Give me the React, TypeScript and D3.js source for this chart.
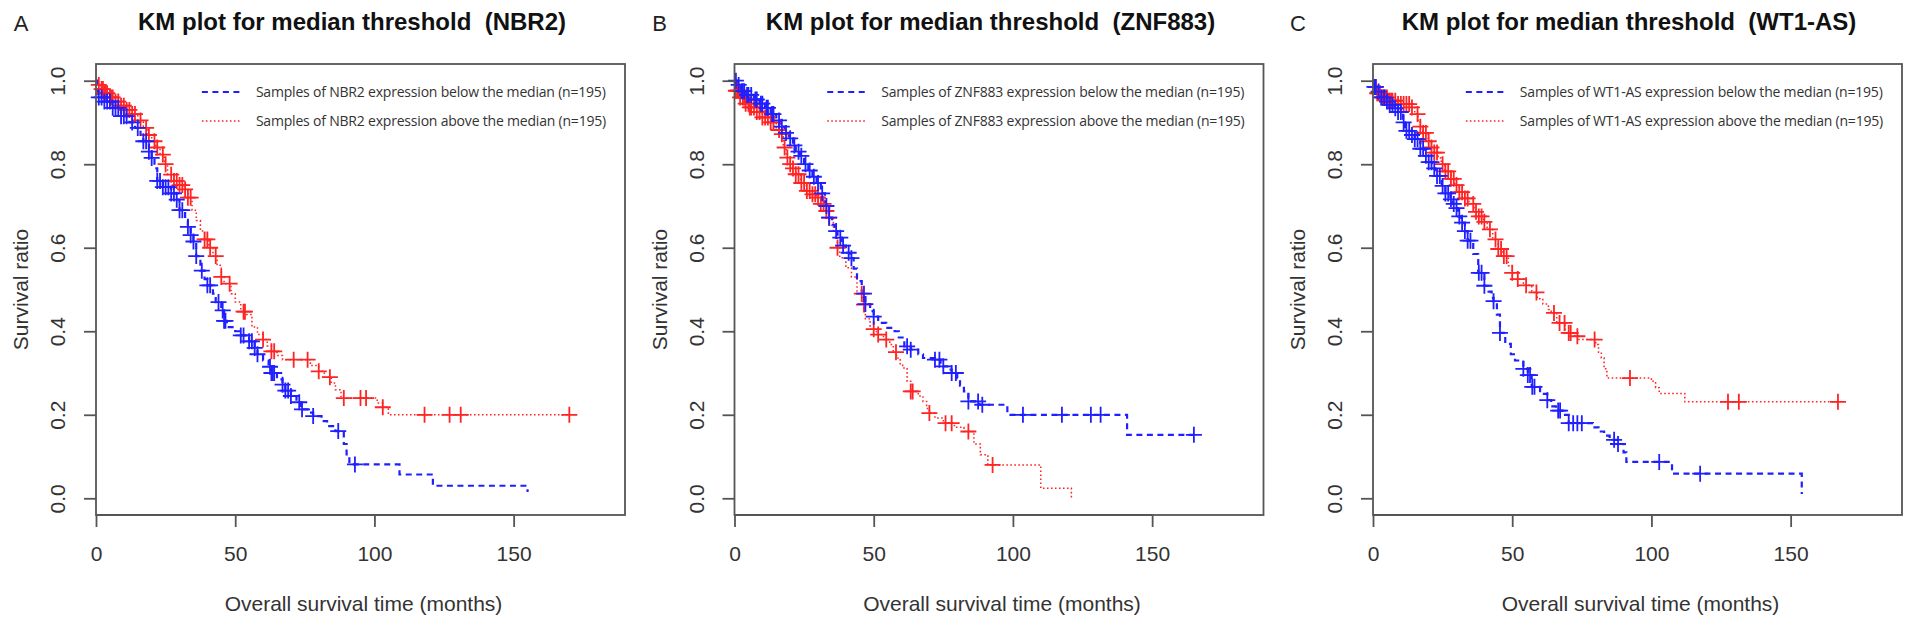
import { useEffect, useRef } from "react";
import * as d3 from "d3";

type Step = [number, number]; // [months, survival ratio from that time on]

const panelLetters = ["A", "B", "C"];
const geneNames = ["NBR2", "ZNF883", "WT1-AS"];
const groupSize = 195;
const xTickValues = [0, 50, 100, 150];
const yTickValues = [0, 0.2, 0.4, 0.6, 0.8, 1.0];

// ---- NBR2 ----
const nbr2BelowSteps: Step[] = [
  [0, 1], [0.7, 0.96], [3, 0.95], [6, 0.935], [9, 0.915], [12, 0.9], [14, 0.887], [16, 0.87],
  [17, 0.855], [19, 0.83], [20, 0.815], [21, 0.79], [22, 0.76], [24, 0.745], [27, 0.73],
  [29, 0.715], [30, 0.69], [32, 0.665], [33, 0.65], [34, 0.63], [35, 0.615], [36, 0.58],
  [37.5, 0.545], [39, 0.525], [40, 0.51], [42, 0.49], [43, 0.47], [45, 0.45], [46, 0.425],
  [47, 0.41], [50, 0.4], [52, 0.39], [55, 0.376], [57, 0.36], [58, 0.345], [60, 0.33],
  [62, 0.315], [63, 0.3], [65, 0.285], [67, 0.272], [68, 0.258], [70, 0.245], [72, 0.23],
  [73.5, 0.213], [76, 0.205], [78, 0.197], [81, 0.185], [83, 0.173], [86, 0.161], [89, 0.13],
  [90, 0.105], [91, 0.081], [109, 0.057], [121, 0.03], [155, 0.015],
];
const nbr2BelowEnd = 155;
const nbr2BelowCensor = [
  1, 2, 3, 4, 5, 6, 7, 8, 9, 10, 11, 13, 15, 17, 18, 19, 20, 22, 23, 24, 25, 26, 27, 28, 29, 30,
  31, 33, 34, 35, 36, 38, 40, 41, 44, 45.5, 46, 46.5, 52, 53, 55, 56, 57, 58, 62.5, 63, 63.5,
  64, 67, 68, 69, 70, 73, 74, 78, 87, 93,
];
const nbr2AboveSteps: Step[] = [
  [0, 1], [0.5, 0.99], [1.5, 0.98], [3, 0.97], [5, 0.96], [7, 0.95], [9, 0.94], [11, 0.93],
  [13, 0.92], [15, 0.905], [17, 0.887], [18.5, 0.87], [20, 0.855], [21.5, 0.84], [23, 0.823],
  [24.5, 0.8], [25.7, 0.775], [28, 0.76], [30, 0.75], [31.5, 0.74], [33, 0.72], [34.5, 0.69],
  [36, 0.665], [37.5, 0.64], [39, 0.62], [40.5, 0.6], [42, 0.58], [43.5, 0.558], [45, 0.53],
  [46, 0.514], [48.5, 0.49], [50, 0.47], [52, 0.447], [54, 0.44], [56, 0.41], [58, 0.392],
  [60, 0.38], [61.5, 0.365], [63, 0.352], [65, 0.342], [67, 0.332], [77, 0.318], [80, 0.304],
  [82, 0.29], [84.5, 0.276], [86, 0.26], [88, 0.24], [101, 0.228], [103, 0.218], [105, 0.2],
];
const nbr2AboveEnd = 170;
const nbr2AboveCensor = [
  1, 2, 2.5, 3, 3.5, 4, 5, 5.5, 6, 7, 8, 9, 10, 11, 12, 13, 14, 16, 18, 19, 21, 22, 24, 25, 27,
  28, 29, 30, 31, 32, 33, 34, 39, 40, 41, 43, 45, 48, 53, 53.5, 60, 63, 64, 71, 76, 80, 84, 89,
  95, 97, 103, 118, 127, 131, 170,
];

// ---- ZNF883 ----
const znf883BelowSteps: Step[] = [
  [0, 1], [1, 0.99], [2, 0.975], [4, 0.966], [7, 0.955], [9, 0.945], [11, 0.935], [13, 0.92],
  [15, 0.905], [16.5, 0.89], [18, 0.875], [19.5, 0.862], [21, 0.845], [22, 0.83], [23.5, 0.82],
  [25, 0.8], [26.5, 0.785], [28, 0.77], [29.5, 0.755], [31, 0.73], [32.5, 0.7], [34, 0.672],
  [35, 0.655], [36, 0.64], [37, 0.624], [38.5, 0.605], [40, 0.588], [41.5, 0.575],
  [42.8, 0.55], [44, 0.52], [45.7, 0.49], [47, 0.465], [48.7, 0.448], [50, 0.435],
  [51.6, 0.42], [54.5, 0.408], [57.5, 0.4], [59, 0.385], [61, 0.364], [63.3, 0.356], [66, 0.345],
  [67.7, 0.336], [72, 0.332], [74, 0.322], [75, 0.316], [77, 0.308], [78, 0.3], [80, 0.288],
  [81, 0.27], [82.4, 0.256], [84, 0.232], [88, 0.224], [98, 0.2], [141, 0.152],
];
const znf883BelowEnd = 165;
const znf883BelowCensor = [
  0.5, 1.5, 2.5, 3, 3.5, 4.5, 5, 6, 7.5, 8, 9.5, 10, 11.5, 12, 13.5, 14, 16, 17, 18.5, 20,
  21.5, 23, 24, 25.5, 27, 28.5, 30, 31.5, 33, 34, 36.5, 38, 39, 41, 42, 46.5, 47, 50, 62,
  63.3, 72, 73.6, 75, 78, 79.5, 84, 87.5, 89, 103.6, 117.6, 128, 131.5, 165,
];
const znf883AboveSteps: Step[] = [
  [0, 1], [0.5, 0.976], [2, 0.96], [4, 0.945], [5.5, 0.936], [8, 0.925], [10, 0.912],
  [13, 0.9], [15, 0.882], [16.2, 0.872], [17.5, 0.84], [18.6, 0.816], [20, 0.8],
  [20.8, 0.79], [22, 0.776], [23.8, 0.755], [25.8, 0.736], [28, 0.728], [29.4, 0.72],
  [31, 0.705], [33, 0.688], [34, 0.672], [35.5, 0.64], [37, 0.6], [37.8, 0.576], [40, 0.552],
  [42, 0.53], [44, 0.49], [46, 0.464], [47, 0.43], [48.7, 0.405], [51, 0.392], [53.5, 0.38],
  [55.8, 0.368], [57, 0.35], [58.2, 0.336], [59.5, 0.322], [60.4, 0.312], [62, 0.28],
  [63.3, 0.256], [66, 0.245], [67.7, 0.232], [69, 0.215], [70, 0.204], [72, 0.192],
  [75, 0.18], [79, 0.17], [82.4, 0.16], [86, 0.13], [88.3, 0.104], [91, 0.08], [110, 0.024],
  [121, 0],
];
const znf883AboveEnd = 121;
const znf883AboveCensor = [
  0.5, 1, 1.5, 2, 3, 3.5, 4, 5, 5.5, 6, 7, 8, 9, 10, 11, 12, 13, 14, 16, 17, 18, 19, 20, 21,
  22, 23, 24, 25, 26, 27, 28, 29, 30, 31, 32, 33, 34, 37, 45.7, 46.5, 50, 51.6, 54.5, 58, 63.3,
  64, 70, 75.8, 78, 84, 92.7,
];

// ---- WT1-AS ----
const wt1asBelowSteps: Step[] = [
  [0, 1], [0.5, 0.985], [1.5, 0.974], [3, 0.96], [4.6, 0.95], [6, 0.942], [7.7, 0.934],
  [9, 0.925], [10.8, 0.9], [11.5, 0.88], [13.9, 0.87], [15, 0.86], [17, 0.837],
  [18.5, 0.82], [20, 0.805], [21.2, 0.79], [22.4, 0.772], [24.7, 0.748], [26, 0.73],
  [27.8, 0.716], [28.6, 0.705], [29.4, 0.695], [30.5, 0.675], [31.7, 0.66], [33, 0.64],
  [34, 0.617], [36, 0.585], [37.8, 0.54], [40, 0.509], [41.5, 0.495], [42.6, 0.48],
  [43.3, 0.472], [44.5, 0.44], [45.6, 0.396], [47.5, 0.37], [49.5, 0.345], [51, 0.33],
  [54, 0.31], [55.6, 0.295], [57, 0.267], [60, 0.25], [62.6, 0.235], [64, 0.22], [65.7, 0.21],
  [68, 0.2], [70.3, 0.18], [79, 0.17], [81, 0.16], [83, 0.15], [85, 0.14], [88, 0.13],
  [90, 0.11], [91, 0.087], [107.4, 0.059], [154, 0.01],
];
const wt1asBelowEnd = 154;
const wt1asBelowCensor = [
  0.5, 1, 2, 3, 4, 5, 6, 7, 8, 9, 10, 11, 12, 13, 14, 15, 16, 17, 18, 19, 20, 21, 22, 23, 24,
  25, 26, 27, 28, 29, 30, 31, 32, 33, 34, 35, 38, 39, 40, 43.3, 45.6, 54, 55.6, 56.4, 57.2, 58,
  62.6, 66.5, 67.2, 70.3, 71.9, 73.4, 75, 86.6, 88, 102.8, 117.5,
];
const wt1asAboveSteps: Step[] = [
  [0, 1], [0.5, 0.985], [1.5, 0.97], [3, 0.96], [5.4, 0.952], [9, 0.944], [13.8, 0.936],
  [15, 0.92], [16.2, 0.903], [17, 0.89], [18, 0.875], [19.8, 0.855], [21, 0.84],
  [22, 0.828], [23.4, 0.815], [24.5, 0.8], [25.8, 0.783], [28, 0.765], [29.4, 0.75],
  [31, 0.733], [33, 0.718], [34.5, 0.705], [36.6, 0.686], [38, 0.675], [39.6, 0.662],
  [41, 0.644], [43, 0.62], [45, 0.597], [46.5, 0.58], [48.6, 0.557], [50, 0.54], [52, 0.525],
  [54, 0.51], [57, 0.493], [59, 0.478], [61, 0.465], [63, 0.452], [64, 0.444], [66, 0.42],
  [69, 0.396], [72.5, 0.388], [74, 0.38], [80, 0.368], [81, 0.35], [82, 0.336],
  [83, 0.31], [84, 0.288], [100, 0.28], [101.5, 0.265], [102.8, 0.251], [112, 0.231],
];
const wt1asAboveEnd = 167;
const wt1asAboveCensor = [
  1, 1.5, 2, 2.5, 3, 3.5, 4, 4.5, 5, 5.5, 6, 6.5, 7, 8, 9, 10, 11, 12, 13, 14, 16, 17, 18, 19,
  20, 21, 22, 23, 25, 26, 27, 28, 29, 30, 31, 32, 33, 34, 36, 37, 38, 39, 40, 42, 44, 45, 46,
  47, 48, 50, 52, 55, 58.7, 65, 67, 68.8, 70.3, 71, 73.4, 79.6, 92.3, 127.5, 131.4, 167,
];

type Curve = { steps: Step[]; end: number; censor: number[] };

const panels: { letter: string; gene: string; below: Curve; above: Curve }[] = [
  {
    letter: panelLetters[0],
    gene: geneNames[0],
    below: { steps: nbr2BelowSteps, end: nbr2BelowEnd, censor: nbr2BelowCensor },
    above: { steps: nbr2AboveSteps, end: nbr2AboveEnd, censor: nbr2AboveCensor },
  },
  {
    letter: panelLetters[1],
    gene: geneNames[1],
    below: { steps: znf883BelowSteps, end: znf883BelowEnd, censor: znf883BelowCensor },
    above: { steps: znf883AboveSteps, end: znf883AboveEnd, censor: znf883AboveCensor },
  },
  {
    letter: panelLetters[2],
    gene: geneNames[2],
    below: { steps: wt1asBelowSteps, end: wt1asBelowEnd, censor: wt1asBelowCensor },
    above: { steps: wt1asAboveSteps, end: wt1asAboveEnd, censor: wt1asAboveCensor },
  },
];

const survivalAt = (steps: Step[], t: number) => {
  let s = steps[0][1];
  for (const [time, value] of steps) {
    if (time <= t) s = value;
    else break;
  }
  return s;
};

const BLUE = "#1f1fff";
const RED = "#ff2424";
const AXIS = "#555";
const TEXT = "#333";
const FONT = "'Liberation Sans', Arial, Helvetica, sans-serif";

const App = () => {
  const svgRef = useRef<SVGSVGElement | null>(null);

  useEffect(() => {
    if (!svgRef.current) return;
    const svg = d3.select(svgRef.current);
    svg.selectAll("*").remove();

    const boxTop = 64;
    const boxBottom = 515;
    const boxWidth = 529;

    panels.forEach((panel, i) => {
      const left = 96 + i * 638.5;
      const right = left + boxWidth;

      const x = d3.scaleLinear().domain([0, 190]).range([left, right]);
      const y = d3.scaleLinear().domain([-0.04, 1.04]).range([boxBottom, boxTop]);

      const g = svg.append("g");

      // panel letter + title
      g.append("text")
        .attr("x", left - 75)
        .attr("y", 31)
        .attr("text-anchor", "middle")
        .attr("font-size", 22)
        .attr("fill", "#222")
        .text(panel.letter);

      g.append("text")
        .attr("x", left + 256)
        .attr("y", 30)
        .attr("text-anchor", "middle")
        .attr("font-size", 24)
        .attr("font-weight", "bold")
        .attr("fill", "#111")
        .style("white-space", "pre")
        .text(`KM plot for median threshold  (${panel.gene})`);

      // curves
      const line = d3
        .line<Step>()
        .x((d) => x(d[0]))
        .y((d) => y(d[1]))
        .curve(d3.curveStepAfter);

      const drawCurve = (curve: Curve, color: string, dash: string, width: number) => {
        const last = curve.steps[curve.steps.length - 1];
        const pts: Step[] =
          curve.end > last[0] ? [...curve.steps, [curve.end, last[1]]] : curve.steps;
        g.append("path")
          .datum(pts)
          .attr("fill", "none")
          .attr("stroke", color)
          .attr("stroke-width", width)
          .attr("stroke-dasharray", dash)
          .attr("d", line);
      };

      const drawCensor = (curve: Curve, color: string) => {
        g.append("g")
          .selectAll("path")
          .data(curve.censor)
          .join("path")
          .attr("transform", (t) => `translate(${x(t)},${y(survivalAt(curve.steps, t))})`)
          .attr("d", "M-8,0H8M0,-8V8")
          .attr("stroke", color)
          .attr("stroke-width", 1.8)
          .attr("fill", "none");
      };

      drawCurve(panel.above, RED, "1.6 2.4", 1.5);
      drawCurve(panel.below, BLUE, "6 4.5", 2.2);
      drawCensor(panel.above, RED);
      drawCensor(panel.below, BLUE);

      // box
      g.append("rect")
        .attr("x", left)
        .attr("y", boxTop)
        .attr("width", boxWidth)
        .attr("height", boxBottom - boxTop)
        .attr("fill", "none")
        .attr("stroke", AXIS)
        .attr("stroke-width", 1.8);

      // x axis
      const xAxisG = g
        .append("g")
        .attr("transform", `translate(0,${boxBottom})`)
        .call(d3.axisBottom(x).tickValues(xTickValues).tickSize(12).tickFormat(d3.format("d")));
      xAxisG.select(".domain").remove();
      xAxisG.selectAll("line").attr("stroke", AXIS).attr("stroke-width", 1.8);
      xAxisG
        .selectAll("text")
        .attr("y", 46)
        .attr("dy", 0)
        .attr("fill", TEXT)
        .attr("font-size", 21)
        .attr("font-family", FONT);
      g.append("line")
        .attr("x1", x(xTickValues[0]))
        .attr("x2", x(xTickValues[xTickValues.length - 1]))
        .attr("y1", boxBottom)
        .attr("y2", boxBottom)
        .attr("stroke", AXIS)
        .attr("stroke-width", 1.8);

      // y axis
      const yAxisG = g
        .append("g")
        .attr("transform", `translate(${left},0)`)
        .call(d3.axisLeft(y).tickValues(yTickValues).tickSize(12).tickFormat(d3.format(".1f")));
      yAxisG.select(".domain").remove();
      yAxisG.selectAll("line").attr("stroke", AXIS).attr("stroke-width", 1.8);
      yAxisG
        .selectAll("text")
        .attr("x", 0)
        .attr("dy", 0)
        .attr("transform", "translate(-31,0) rotate(-90)")
        .attr("text-anchor", "middle")
        .attr("fill", TEXT)
        .attr("font-size", 21)
        .attr("font-family", FONT);

      // axis titles
      g.append("text")
        .attr("x", (left + right) / 2 + 3)
        .attr("y", 611)
        .attr("text-anchor", "middle")
        .attr("font-size", 21)
        .attr("fill", TEXT)
        .text("Overall survival time (months)");

      g.append("text")
        .attr("transform", `translate(${left - 68},${(boxTop + boxBottom) / 2}) rotate(-90)`)
        .attr("text-anchor", "middle")
        .attr("font-size", 21)
        .attr("fill", TEXT)
        .text("Survival ratio");

      // legend
      const labels = [
        `Samples of ${panel.gene} expression below the median (n=${groupSize})`,
        `Samples of ${panel.gene} expression above the median (n=${groupSize})`,
      ];
      const legendTexts = labels.map((label, k) =>
        g
          .append("text")
          .attr("y", boxTop + 28 + k * 29)
          .attr("dy", "0.35em")
          .attr("font-family", "'Open Sans', sans-serif")
          .attr("font-size", 14)
          .attr("letter-spacing", -0.2)
          .attr("fill", TEXT)
          .text(label)
      );
      const widest =
        d3.max(legendTexts, (t) => (t.node() as SVGTextElement).getComputedTextLength()) ?? 350;
      const textStart = right - 19 - widest;
      legendTexts.forEach((t) => t.attr("x", textStart));

      const legendLines = [
        { color: BLUE, dash: "6 4.5", width: 2.2 },
        { color: RED, dash: "1.6 2.4", width: 1.5 },
      ];
      legendLines.forEach((l, k) => {
        g.append("line")
          .attr("x1", textStart - 54)
          .attr("x2", textStart - 15)
          .attr("y1", boxTop + 28 + k * 29)
          .attr("y2", boxTop + 28 + k * 29)
          .attr("stroke", l.color)
          .attr("stroke-width", l.width)
          .attr("stroke-dasharray", l.dash);
      });
    });
  }, []);

  return (
    <svg
      ref={svgRef}
      width={1913}
      height={631}
      style={{ position: "absolute", left: 0, top: 0, background: "#fff" }}
      fontFamily={FONT}
    />
  );
};

export default App;
